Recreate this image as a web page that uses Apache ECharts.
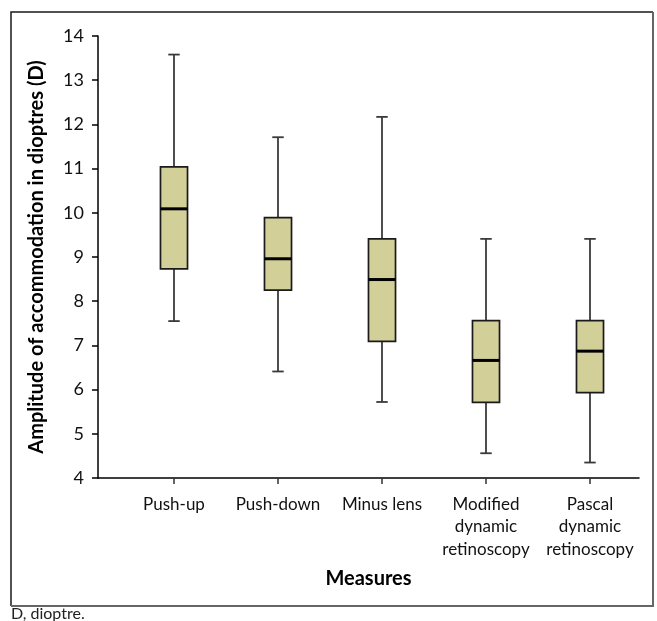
<!DOCTYPE html>
<html>
<head>
<meta charset="utf-8">
<script src="https://cdn.jsdelivr.net/npm/echarts@6/dist/echarts.min.js"></script>
<style>
html,body{margin:0;padding:0;background:#fff;}
#chart{width:657px;height:621px;}
</style>
</head>
<body>
<div id="chart"></div>
<script>
const categories = ['Push-up', 'Push-down', 'Minus lens', 'Modified\ndynamic\nretinoscopy', 'Pascal\ndynamic\nretinoscopy'];
const whiskerLow = [7.55, 6.41, 5.72, 4.56, 4.35];
const quartile1 = [8.73, 8.25, 7.09, 5.71, 5.93];
const medians = [10.09, 8.96, 8.49, 6.66, 6.87];
const quartile3 = [11.04, 9.89, 9.41, 7.56, 7.56];
const whiskerHigh = [13.58, 11.71, 12.17, 9.41, 9.41];
const yTicks = [4, 5, 6, 7, 8, 9, 10, 11, 12, 13, 14];

const FONT = 'Lato, "Open Sans", sans-serif';
const boxData = categories.map((c, i) => [i, whiskerLow[i], quartile1[i], medians[i], quartile3[i], whiskerHigh[i]]);

const chart = echarts.init(document.getElementById('chart'), null, {renderer: 'canvas'});
chart.setOption({
  animation: false,
  backgroundColor: '#ffffff',
  graphic: [
    {type: 'polyline', shape: {points: [[11, 606], [11, 12], [653, 12]]}, style: {stroke: '#1a1a1a', lineWidth: 1.5, fill: null}},
    {type: 'polyline', shape: {points: [[653, 12], [653, 606], [11, 606]]}, style: {stroke: '#666666', lineWidth: 2, fill: null}},
    {type: 'text', left: 11, top: 606, style: {text: 'D, dioptre.', font: '16px ' + FONT, fill: '#222'}}
  ],
  grid: [
    {left: 98, right: 18, top: 36, bottom: 143},
    {left: 122, right: 15, top: 36, bottom: 143}
  ],
  xAxis: [
    {
      type: 'value', gridIndex: 0, min: 0, max: 1,
      axisLine: {show: true, lineStyle: {color: '#000', width: 1.5}},
      axisTick: {show: false}, axisLabel: {show: false}, splitLine: {show: false},
      name: 'Measures', nameLocation: 'middle', nameGap: 91,
      nameTextStyle: {fontFamily: FONT, fontWeight: 'bold', fontSize: 20, color: '#000'}
    },
    {
      type: 'category', gridIndex: 1, data: categories,
      axisLine: {show: false},
      axisTick: {show: true, alignWithLabel: true, length: 6, lineStyle: {color: '#333', width: 1.5}},
      axisLabel: {fontFamily: FONT, fontSize: 17, color: '#111', margin: 15, lineHeight: 22.5, interval: 0}
    }
  ],
  yAxis: [
    {
      type: 'value', gridIndex: 0, min: 4, max: 14, interval: 1,
      axisLine: {show: true, lineStyle: {color: '#000', width: 1.5}},
      axisTick: {show: true, length: 6, lineStyle: {color: '#000', width: 1.5}},
      axisLabel: {fontFamily: FONT, fontSize: 18, color: '#111', margin: 14,
        formatter: v => yTicks.includes(v) ? String(v) : ''},
      splitLine: {show: false},
      name: 'Amplitude of accommodation in dioptres (D)', nameLocation: 'middle', nameGap: 51, nameRotate: 90,
      nameTextStyle: {fontFamily: FONT, fontWeight: 'bold', fontSize: 20, color: '#000'}
    },
    {
      type: 'value', gridIndex: 1, min: 4, max: 14, interval: 1, show: false
    }
  ],
  series: [{
    type: 'custom',
    xAxisIndex: 1, yAxisIndex: 1,
    data: boxData,
    encode: {x: 0, y: [1, 2, 3, 4, 5]},
    renderItem: function (params, api) {
      const x = api.value(0);
      const lo = api.coord([x, api.value(1)]);
      const q1 = api.coord([x, api.value(2)]);
      const md = api.coord([x, api.value(3)]);
      const q3 = api.coord([x, api.value(4)]);
      const hi = api.coord([x, api.value(5)]);
      const band = api.size([1, 0])[0];
      const hb = band * 0.13;
      const hc = band * 0.055;
      const cx = lo[0];
      const wStyle = {stroke: '#3a3a3a', lineWidth: 1.8};
      return {
        type: 'group',
        children: [
          {type: 'line', shape: {x1: cx, y1: hi[1], x2: cx, y2: q3[1]}, style: wStyle},
          {type: 'line', shape: {x1: cx, y1: q1[1], x2: cx, y2: lo[1]}, style: wStyle},
          {type: 'line', shape: {x1: cx - hc, y1: hi[1], x2: cx + hc, y2: hi[1]}, style: wStyle},
          {type: 'line', shape: {x1: cx - hc, y1: lo[1], x2: cx + hc, y2: lo[1]}, style: wStyle},
          {type: 'rect', shape: {x: cx - hb, y: q3[1], width: hb * 2, height: q1[1] - q3[1]},
            style: {fill: '#d3cf99', stroke: '#1a1a1a', lineWidth: 1.7}},
          {type: 'line', shape: {x1: cx - hb, y1: md[1], x2: cx + hb, y2: md[1]}, style: {stroke: '#000', lineWidth: 3}}
        ]
      };
    }
  }]
});
</script>
</body>
</html>
